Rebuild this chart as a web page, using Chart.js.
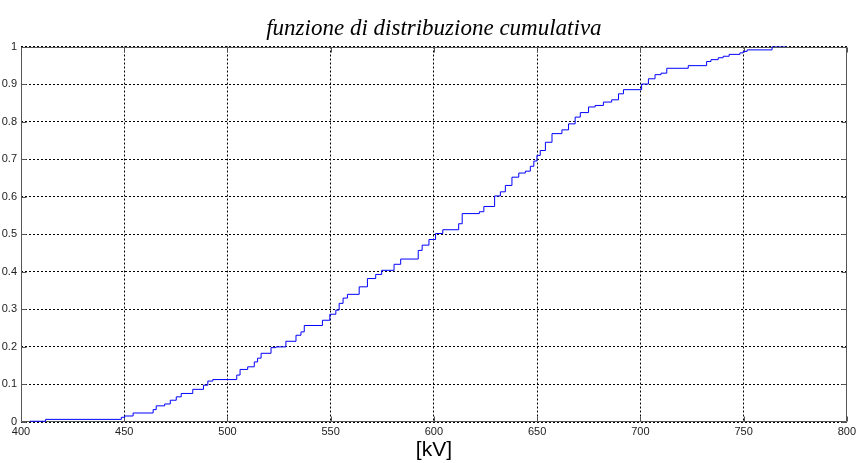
<!DOCTYPE html>
<html>
<head>
<meta charset="utf-8">
<script src="https://cdn.jsdelivr.net/npm/chart.js@4/dist/chart.umd.min.js"></script>
<style>
  html, body { margin: 0; padding: 0; background: #fff; }
  #wrap { width: 859px; height: 463px; }
</style>
</head>
<body>
<div id="wrap"><canvas id="chart" width="859" height="463"></canvas></div>
<script>
// step positions (kV) and cumulative level reached at each step
const kv = [
    404.3, 411.9, 448.6, 450.2, 454.3, 464.0, 465.5, 469.6, 472.3, 475.2,
    477.6, 483.2, 488.4, 490.5, 492.9, 504.5, 506.1, 509.8, 513.0, 514.6,
    516.3, 521.1, 523.5, 528.3, 533.2, 535.6, 537.2, 546.0, 549.6, 552.5,
    554.1, 556.0, 558.1, 563.8, 567.8, 571.8, 574.7, 580.7, 583.9, 592.4,
    594.3, 597.6, 600.8, 604.3, 612.0, 613.7, 622.0, 624.2, 629.4, 632.2,
    634.6, 637.8, 641.1, 644.3, 646.7, 648.4, 649.9, 651.5, 654.0, 657.2,
    662.0, 665.2, 668.4, 670.9, 674.9, 678.1, 682.1, 686.1, 689.4, 691.8,
    700.6, 703.9, 707.1, 710.0, 712.8, 723.2, 732.1, 734.2, 737.7, 740.1,
    743.0, 748.2, 749.8, 751.7, 763.8, 770.7
];
const cdf = [
    0.002, 0.007, 0.0125, 0.016, 0.024, 0.033, 0.043, 0.048, 0.058, 0.067,
    0.076, 0.087, 0.098, 0.109, 0.113, 0.125, 0.140, 0.147, 0.160, 0.170,
    0.183, 0.198, 0.200, 0.215, 0.231, 0.240, 0.257, 0.271, 0.287, 0.298,
    0.316, 0.330, 0.340, 0.360, 0.382, 0.393, 0.404, 0.420, 0.434, 0.457,
    0.471, 0.486, 0.502, 0.512, 0.528, 0.555, 0.560, 0.574, 0.602, 0.613,
    0.630, 0.652, 0.663, 0.668, 0.681, 0.695, 0.710, 0.723, 0.745, 0.768,
    0.778, 0.794, 0.812, 0.824, 0.839, 0.843, 0.852, 0.858, 0.874, 0.885,
    0.900, 0.914, 0.925, 0.929, 0.942, 0.949, 0.960, 0.965, 0.970, 0.974,
    0.979, 0.983, 0.987, 0.991, 1.000, 1.000
];

const xTicks = [400, 450, 500, 550, 600, 650, 700, 750, 800];
const xLabels = ['400', '450', '500', '550', '600', '650', '700', '750', '800'];
const yTicks = [0, 0.1, 0.2, 0.3, 0.4, 0.5, 0.6, 0.7, 0.8, 0.9, 1];
const yLabels = ['0', '0.1', '0.2', '0.3', '0.4', '0.5', '0.6', '0.7', '0.8', '0.9', '1'];

const points = kv.map((v, i) => ({ x: v, y: cdf[i] }));

// matlab style box with inward tick marks
const boxPlugin = {
    id: 'box',
    beforeDatasetsDraw(chart) {
        const { ctx, chartArea: a, scales } = chart;
        const l = Math.round(a.left) + 0.5;
        const r = Math.round(a.right) - 0.5;
        const t = Math.round(a.top) + 0.5;
        const b = Math.round(a.bottom) - 0.5;
        const tick = 5;
        ctx.save();
        ctx.strokeStyle = '#555';
        ctx.lineWidth = 1;
        ctx.beginPath();
        ctx.rect(l, t, r - l, b - t);
        scales.x.ticks.forEach(tk => {
            const px = Math.round(scales.x.getPixelForValue(tk.value)) + 0.5;
            ctx.moveTo(px, b); ctx.lineTo(px, b - tick);
            ctx.moveTo(px, t); ctx.lineTo(px, t + tick);
        });
        scales.y.ticks.forEach(tk => {
            const py = Math.round(scales.y.getPixelForValue(tk.value)) + 0.5;
            ctx.moveTo(l, py); ctx.lineTo(l + tick, py);
            ctx.moveTo(r, py); ctx.lineTo(r - tick, py);
        });
        ctx.stroke();
        ctx.restore();
    }
};

const config = {
    type: 'line',
    data: {
        datasets: [
            {
                label: 'cdf',
                data: points,
                stepped: true,
                borderColor: '#0000ff',
                borderWidth: 1,
                pointRadius: 0,
                fill: false,
            },
        ],
    },
    options: {
        responsive: false,
        animation: false,
        layout: {
            padding: { left: 0, right: 10, top: 0, bottom: 0 },
        },
        plugins: {
            legend: { display: false },
            tooltip: { enabled: false },
            title: {
                display: true,
                fullSize: false,
                text: 'funzione di distribuzione cumulativa',
                color: '#000',
                font: { family: 'Liberation Serif', size: 23, style: 'italic', weight: 'normal' },
                padding: { top: 15, bottom: 3.9 },
            },
        },
        scales: {
            x: {
                type: 'linear',
                min: 400,
                max: 800,
                afterBuildTicks: s => { s.ticks = xTicks.map(v => ({ value: v })); },
                afterFit: s => { s.height = 41; },
                ticks: {
                    callback: (v) => xLabels[xTicks.indexOf(v)],
                    color: '#222',
                    font: { family: 'Liberation Sans', size: 11 },
                    padding: 3,
                    maxRotation: 0,
                    autoSkip: false,
                },
                grid: { color: '#000', lineWidth: 1, drawTicks: false },
                border: { display: false, dash: [2, 2] },
                title: {
                    display: true,
                    text: '[kV]',
                    color: '#000',
                    font: { family: 'Liberation Sans', size: 21 },
                    padding: { top: 0, bottom: 0 },
                },
            },
            y: {
                min: 0,
                max: 1,
                afterBuildTicks: s => { s.ticks = yTicks.map(v => ({ value: v })); },
                afterFit: s => { s.width = 21; },
                ticks: {
                    callback: (v) => yLabels[yTicks.indexOf(v)],
                    color: '#222',
                    font: { family: 'Liberation Sans', size: 11 },
                    padding: 4,
                    autoSkip: false,
                },
                grid: { color: '#000', lineWidth: 1, drawTicks: false },
                border: { display: false, dash: [2, 2] },
            },
        },
    },
    plugins: [boxPlugin],
};

const element = document.getElementById('chart');
const chart = new Chart(element, config);
</script>
</body>
</html>
